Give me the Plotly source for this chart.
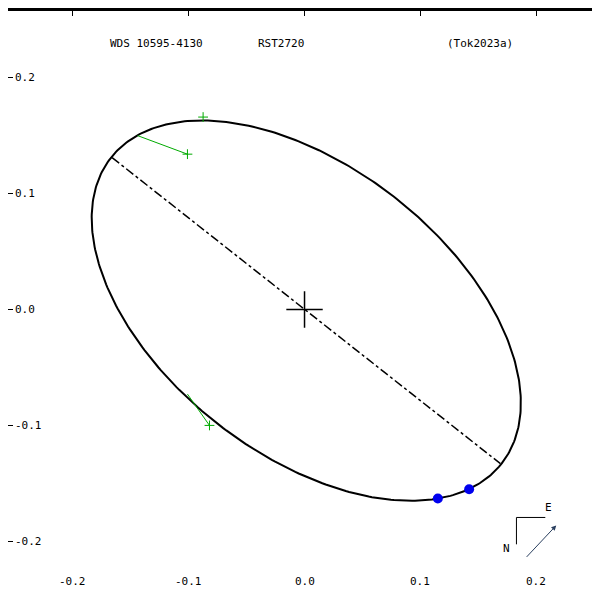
import numpy as np
import plotly.graph_objs as go

# Orbit ellipse parameters (apparent orbit, arcsec)
ell_center = (0.0015, -0.001)
ell_a = 0.214
ell_b = 0.124
ell_angle_deg = -38.0

# Line of apsides end points
apsides_x = [-0.166, 0.169]
apsides_y = [0.131, -0.133]

# Measurements: (orbit point, observed point)
resid_x = [[-0.144, -0.101], [-0.101, -0.082]]
resid_y = [[0.150, 0.134], [-0.073, -0.100]]
extra_x = [-0.0875]
extra_y = [0.166]

# Recent measurements (blue)
blue_x = [0.115, 0.142]
blue_y = [-0.163, -0.155]

tick_vals = [-0.2, -0.1, 0.0, 0.1, 0.2]
tick_text = ['-0.2', '-0.1', '0.0', '0.1', '0.2']

mono = dict(family='DejaVu Sans Mono', size=11, color='black')

t = np.linspace(0, 2 * np.pi, 400)
th = np.radians(ell_angle_deg)
ex = ell_center[0] + ell_a * np.cos(t) * np.cos(th) - ell_b * np.sin(t) * np.sin(th)
ey = ell_center[1] + ell_a * np.cos(t) * np.sin(th) + ell_b * np.sin(t) * np.cos(th)

traces = [
    go.Scatter(x=ex, y=ey, mode='lines', line=dict(color='black', width=2)),
    go.Scatter(x=apsides_x, y=apsides_y, mode='lines',
               line=dict(color='black', width=1.5, dash='dashdot')),
    go.Scatter(x=[0], y=[0], mode='markers',
               marker=dict(symbol='cross-thin', size=26,
                           line=dict(color='black', width=1.5))),
    go.Scatter(x=blue_x, y=blue_y, mode='markers',
               marker=dict(color='#0000ee', size=10)),
    go.Scatter(x=extra_x, y=extra_y, mode='markers',
               marker=dict(symbol='cross-thin', size=7,
                           line=dict(color='#00aa00', width=1))),
]
for rx, ry in zip(resid_x, resid_y):
    traces.append(go.Scatter(x=rx, y=ry, mode='lines', line=dict(color='#00aa00', width=1)))
    traces.append(go.Scatter(x=[rx[1]], y=[ry[1]], mode='markers',
                             marker=dict(symbol='cross-thin', size=7,
                                         line=dict(color='#00aa00', width=1))))

annotations = []
for v, s in zip(tick_vals, tick_text):
    annotations.append(dict(x=0.008, xref='paper', y=v, yref='y', text=s,
                            showarrow=False, xanchor='left', font=mono))
    annotations.append(dict(x=v, xref='x', y=0.03, yref='paper', text=s,
                            showarrow=False, font=mono))
for xp, txt in [(0.167, 'WDS 10595-4130'), (0.458, 'RST2720'), (0.85, '(Tok2023a)')]:
    annotations.append(dict(x=xp, xref='paper', y=0.96, yref='paper', text=txt,
                            showarrow=False, font=mono))
annotations += [
    dict(x=507 / 600, y=1 - 549 / 600, xref='paper', yref='paper', text='N',
         showarrow=False, font=mono),
    dict(x=549 / 600, y=1 - 508 / 600, xref='paper', yref='paper', text='E',
         showarrow=False, font=mono),
    dict(x=551 / 600, y=1 - 517 / 600, ax=-31, ay=33,
         xref='paper', yref='paper', text='',
         showarrow=True, arrowhead=2, arrowwidth=1, arrowsize=1),
]
shapes = [
    dict(type='line', xref='paper', yref='paper', x0=511 / 600, y0=1 - 509 / 600,
         x1=511 / 600, y1=1 - 536 / 600, line=dict(color='black', width=1)),
    dict(type='line', xref='paper', yref='paper', x0=511 / 600, y0=1 - 509 / 600,
         x1=540 / 600, y1=1 - 509 / 600, line=dict(color='black', width=1)),
]

axis_common = dict(showgrid=False, zeroline=False, showticklabels=False,
                   ticks='inside', ticklen=5, tickcolor='black',
                   tickvals=tick_vals, showline=True, linecolor='black',
                   linewidth=3, mirror='ticks')
layout = go.Layout(
    width=600, height=600, showlegend=False,
    margin=dict(l=0, r=0, t=0, b=0),
    plot_bgcolor='white', paper_bgcolor='white',
    xaxis=dict(range=[-0.2558, 0.2592], **axis_common),
    yaxis=dict(range=[-0.2575, 0.2575], **axis_common),
    annotations=annotations, shapes=shapes)

fig = go.Figure(data=traces, layout=layout)
fig.write_html('out.html')
